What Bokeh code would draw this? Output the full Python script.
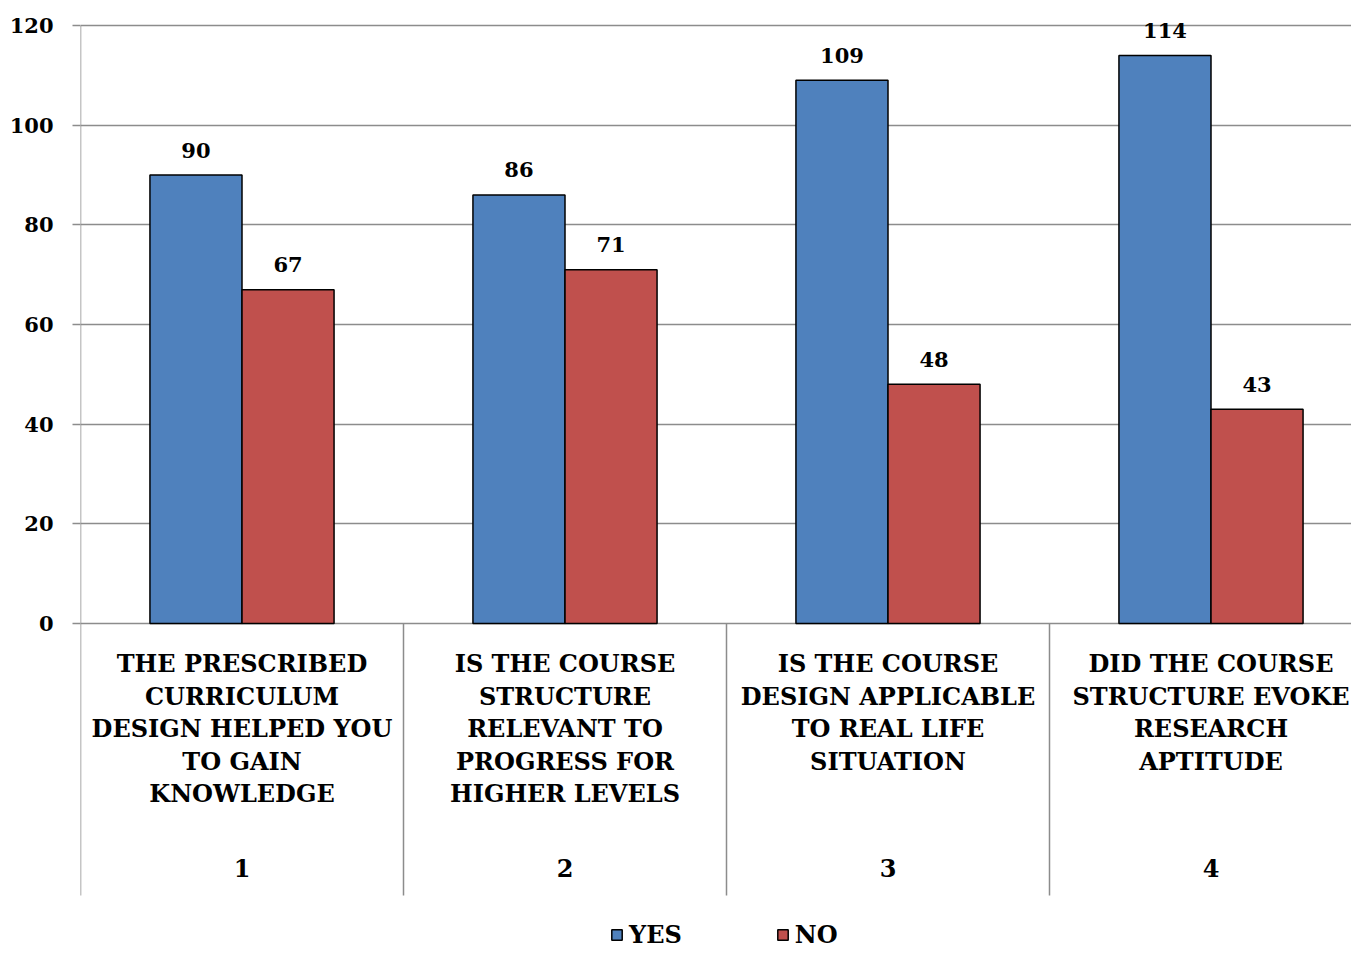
from bokeh.plotting import figure
from bokeh.models import Range1d, FixedTicker, Legend, LegendItem, ColumnDataSource
from bokeh.core.properties import value
from bokeh.embed import file_html
from bokeh.resources import INLINE

categories = [
    "THE PRESCRIBED\nCURRICULUM\nDESIGN HELPED YOU\nTO GAIN\nKNOWLEDGE",
    "IS THE COURSE\nSTRUCTURE\nRELEVANT TO\nPROGRESS FOR\nHIGHER LEVELS",
    "IS THE COURSE\nDESIGN APPLICABLE\nTO REAL LIFE\nSITUATION",
    "DID THE COURSE\nSTRUCTURE EVOKE\nRESEARCH\nAPTITUDE",
]
numbers = ["1", "2", "3", "4"]
yes = [90, 86, 109, 114]
no = [67, 71, 48, 43]
y_ticks = [0, 20, 40, 60, 80, 100, 120]

FONT = "DejaVu Serif"
n = len(categories)
ymax = 120
ybottom = -54.6

W, H = 1351, 952
p = figure(width=W, height=H, output_backend="svg", toolbar_location=None,
           x_range=Range1d(0, 1271 / 323), y_range=Range1d(-66.02, 125.02),
           min_border_left=80, min_border_right=0, min_border_top=0, min_border_bottom=0)
p.outline_line_color = None
p.background_fill_color = "white"
p.border_fill_color = "white"
p.xaxis.visible = False
p.xgrid.visible = False

yax = p.yaxis[0]
yax.ticker = FixedTicker(ticks=y_ticks)
yax.axis_line_color = None
yax.major_tick_line_color = "#8c8c8c"
yax.major_tick_line_width = 1.5
yax.major_tick_out = 8
yax.major_tick_in = 0
yax.minor_tick_line_color = None
yax.major_label_standoff = 19
yax.major_label_text_font = FONT
yax.major_label_text_font_style = "bold"
yax.major_label_text_font_size = "21px"
yax.major_label_text_color = "black"
p.ygrid.ticker = FixedTicker(ticks=y_ticks)
p.ygrid.grid_line_color = "#8c8c8c"
p.ygrid.grid_line_width = 1.5

idx = list(range(n))
off = 0.1425
bw = 0.285
src = ColumnDataSource(dict(
    xy=[i + 0.5 - off for i in idx], xn=[i + 0.5 + off for i in idx],
    yes=yes, no=no, yl=[str(v) for v in yes], nl=[str(v) for v in no]))

r_yes = p.vbar(x="xy", top="yes", bottom=0, width=bw, source=src,
               fill_color="#4F81BD", line_color="black", line_width=1.5)
r_no = p.vbar(x="xn", top="no", bottom=0, width=bw, source=src,
              fill_color="#C0504D", line_color="black", line_width=1.5)

for xcol, ycol, lcol in (("xy", "yes", "yl"), ("xn", "no", "nl")):
    p.text(x=xcol, y=ycol, text=lcol, source=src, y_offset=-25,
           text_align="center", text_baseline="middle",
           text_font=value(FONT), text_font_style="bold",
           text_font_size="21px", text_color="black")

# separators
p.segment(x0=idx, x1=idx, y0=[ybottom] * n, y1=[ymax] + [0] * (n - 1),
          line_color="#8c8c8c", line_width=1.5)

p.text(x=[i + 0.5 for i in idx], y=[-5.2] * n, text=categories,
       text_align="center", text_baseline="top", text_line_height=1.12,
       text_font=value(FONT), text_font_style="bold",
       text_font_size="24px", text_color="black")
p.text(x=[i + 0.5 for i in idx], y=[-49] * n, text=numbers,
       text_align="center", text_baseline="middle",
       text_font=value(FONT), text_font_style="bold",
       text_font_size="24px", text_color="black")

legend = Legend(items=[LegendItem(label="YES", renderers=[r_yes]),
                       LegendItem(label="NO", renderers=[r_no])],
                orientation="horizontal", location=(530, 3),
                border_line_color=None, background_fill_alpha=0,
                glyph_width=13, glyph_height=13, label_standoff=6, spacing=94,
                padding=0, margin=0,
                label_text_font=FONT, label_text_font_style="bold",
                label_text_font_size="24px", label_text_color="black")
p.add_layout(legend)

open("out.html", "w").write(file_html(p, INLINE))
